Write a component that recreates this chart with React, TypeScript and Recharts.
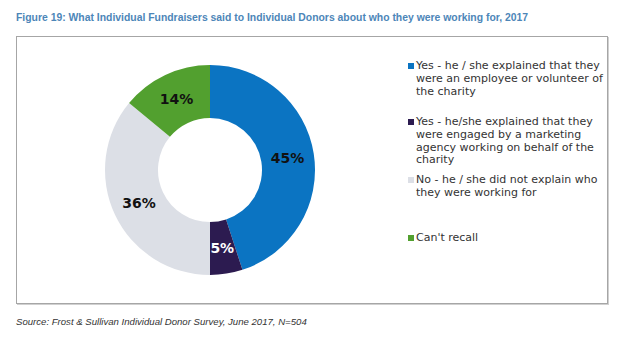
import React from 'react';
import { PieChart, Pie, Cell, Legend } from 'recharts';

const categories = [
  'Yes - he / she explained that they were an employee or volunteer of the charity',
  'Yes - he/she explained that they were engaged by a marketing agency working on behalf of the charity',
  'No - he / she did not explain who they were working for',
  "Can't recall",
];
const legendLines = [
  ['Yes - he / she explained that they', 'were an employee or volunteer of', 'the charity'],
  ['Yes - he/she explained that they', 'were engaged by a marketing', 'agency working on behalf of the', 'charity'],
  ['No - he / she did not explain who', 'they were working for'],
  ["Can't recall"],
];
const values = [45, 5, 36, 14];
const colors = ['#0b74c2', '#2c1b50', '#dcdfe6', '#52a02f'];
const labelColors = ['#111', '#fff', '#111', '#111'];

const data = categories.map((name, i) => ({ name, value: values[i] }));

const RAD = Math.PI / 180;
const renderLabel = (props: any) => {
  const { cx, cy, midAngle, innerRadius, outerRadius, index, value } = props;
  const r = (innerRadius + outerRadius) / 2;
  const x = cx + r * Math.cos(-midAngle * RAD);
  const y = cy + r * Math.sin(-midAngle * RAD);
  return (
    <text
      x={x}
      y={y}
      fill={labelColors[index]}
      textAnchor="middle"
      dominantBaseline="central"
      fontFamily="DejaVu Sans, Verdana, sans-serif"
      fontWeight="bold"
      fontSize={14}
    >
      {`${value}%`}
    </text>
  );
};

const legendTops = [60, 116, 174, 232];

const LegendContent = () => (
  <div style={{ position: 'relative', width: 210, height: 200 }}>
    {legendLines.map((lines, i) => (
      <div
        key={i}
        style={{
          position: 'absolute',
          left: 0,
          top: legendTops[i] - 50,
          fontFamily: 'DejaVu Sans, Verdana, sans-serif',
          fontSize: 11,
          lineHeight: '12.8px',
          color: '#333',
        }}
      >
        <span
          style={{
            position: 'absolute',
            left: 0,
            top: 3,
            width: 6,
            height: 6,
            background: colors[i],
          }}
        />
        <div style={{ marginLeft: 8 }}>
          {lines.map((l, j) => (
            <div key={j} style={{ whiteSpace: 'nowrap' }}>{l}</div>
          ))}
        </div>
      </div>
    ))}
  </div>
);

export default function App() {
  return (
    <div
      style={{
        position: 'absolute',
        left: 0,
        top: 0,
        width: 630,
        height: 338,
        background: '#fff',
        overflow: 'hidden',
      }}
    >
      <div
        style={{
          position: 'absolute',
          left: 16,
          top: 12,
          fontFamily: 'Liberation Sans, Arial, sans-serif',
          fontWeight: 'bold',
          fontSize: 10.4,
          color: '#4d86b8',
          whiteSpace: 'nowrap',
        }}
      >
        Figure 19: What Individual Fundraisers said to Individual Donors about who they were working for, 2017
      </div>
      <div
        style={{
          position: 'absolute',
          left: 16,
          top: 36,
          width: 590,
          height: 266,
          border: '1px solid #a6a6a6',
          boxShadow: '1px 1px 0 #d0d0d0',
        }}
      />
      <div style={{ position: 'absolute', left: 0, top: 0 }}>
        <PieChart width={630} height={338} margin={{ top: 0, right: 0, bottom: 0, left: 0 }}>
          <Pie
            data={data}
            dataKey="value"
            nameKey="name"
            cx={210}
            cy={170}
            innerRadius={52}
            outerRadius={105}
            startAngle={90}
            endAngle={-270}
            stroke="none"
            label={renderLabel}
            labelLine={false}
            isAnimationActive={false}
          >
            {data.map((d, i) => (
              <Cell key={d.name} fill={colors[i]} />
            ))}
          </Pie>
          <Legend
            content={<LegendContent />}
            wrapperStyle={{ position: 'absolute', left: 408, top: 50, width: 210 }}
          />
        </PieChart>
      </div>
      <div
        style={{
          position: 'absolute',
          left: 16,
          top: 316,
          fontFamily: 'Liberation Sans, Arial, sans-serif',
          fontStyle: 'italic',
          fontSize: 9.6,
          color: '#333',
          whiteSpace: 'nowrap',
        }}
      >
        Source: Frost &amp; Sullivan Individual Donor Survey, June 2017, N=504
      </div>
    </div>
  );
}
